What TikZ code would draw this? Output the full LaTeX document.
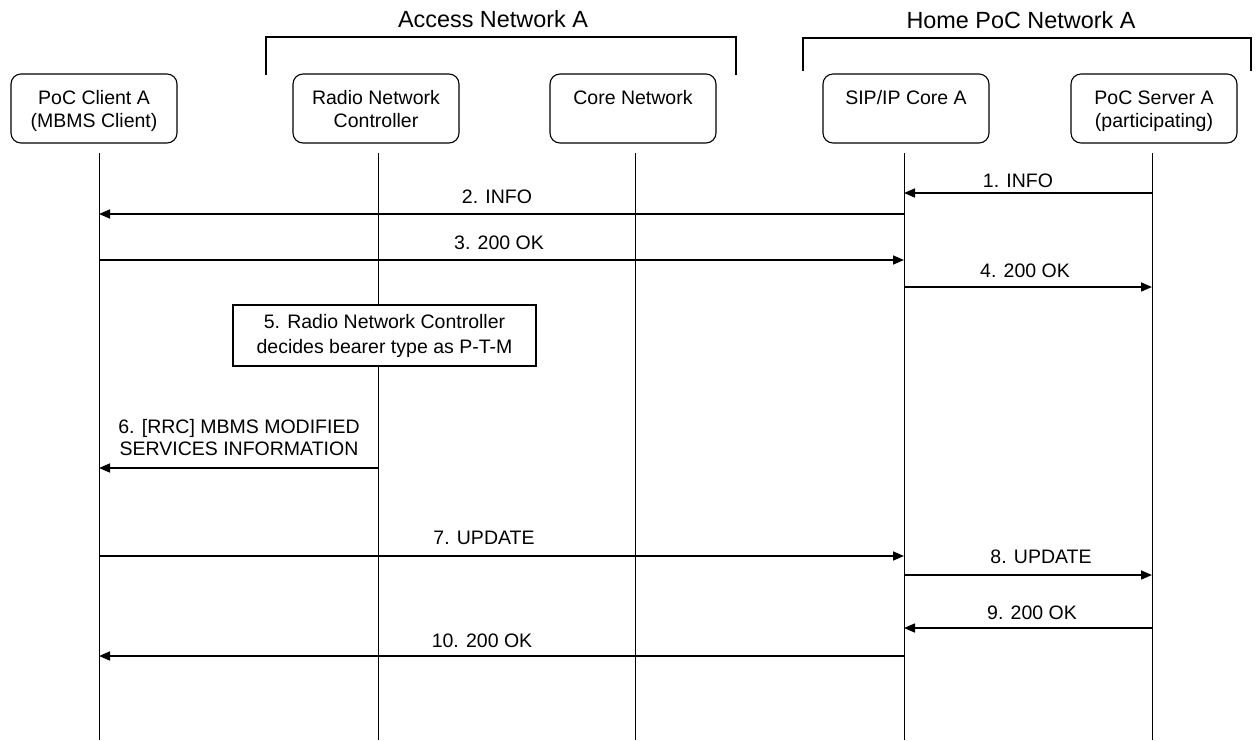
\documentclass[tikz,border=0pt]{standalone}
\usepackage{fontspec}
\setmainfont{Liberation Sans}
\usetikzlibrary{arrows.meta}
\begin{document}
\begin{tikzpicture}[x=1pt,y=-1pt,
  ent/.style={draw, rounded corners=10pt, line width=1.1pt, minimum width=166pt, minimum height=69pt, inner sep=0pt},
  enttext/.style={anchor=north, align=center, inner sep=0pt, font=\fontsize{19.5}{23}\selectfont},
  hdr/.style={inner sep=0pt, font=\fontsize{23.4}{27}\selectfont},
  life/.style={line width=1pt},
  brk/.style={line width=1.1pt},
  msg/.style={line width=1.6pt, -{Triangle[length=11pt,width=9pt]}},
  lbl/.style={inner sep=0pt, align=center, font=\fontsize{19.5}{22}\selectfont},
  actbox/.style={draw, fill=white, line width=1.1pt, minimum width=303pt, minimum height=61pt, inner sep=0pt, align=center, font=\fontsize{19.5}{25}\selectfont}
]
\useasboundingbox (0,0) rectangle (1256,740);

% headers and brackets
\node[hdr] (hAcc) at (493,19) {Access Network A};
\node[hdr] (hHome) at (1021,20) {Home PoC Network A};
\draw[brk] (266,75) -- (266,37) -- (736,37) -- (736,75);
\draw[brk] (803,71) -- (803,38) -- (1251,38) -- (1251,71);

% entities
\node[ent] (A) at (94,108.5) {};
\node[ent] (R) at (376,108.5) {};
\node[ent] (C) at (633,108.5) {};
\node[ent] (S) at (906,108.5) {};
\node[ent] (P) at (1154,108.5) {};
\node[enttext] (At) at ([yshift=-17pt]A.north) {PoC Client A\\(MBMS Client)};
\node[enttext] (Rt) at ([yshift=-17pt]R.north) {Radio Network\\Controller};
\node[enttext] (Ct) at ([yshift=-17pt]C.north) {Core Network};
\node[enttext] (St) at ([yshift=-17pt]S.north) {SIP/IP Core A};
\node[enttext] (Pt) at ([yshift=-17pt]P.north) {PoC Server A\\(participating)};

% lifelines
\coordinate (lA) at (99,153);   \coordinate (eA) at (99,740);
\coordinate (lR) at (378,153);  \coordinate (eR) at (378,740);
\coordinate (lC) at (635,153);  \coordinate (eC) at (635,740);
\coordinate (lS) at (904,153);  \coordinate (eS) at (904,740);
\coordinate (lP) at (1152,153); \coordinate (eP) at (1152,740);
\draw[life] (lA) -- (eA);
\draw[life] (lR) -- (eR);
\draw[life] (lC) -- (eC);
\draw[life] (lS) -- (eS);
\draw[life] (lP) -- (eP);

% message rows
\coordinate (m1) at (0,193);
\coordinate (m2) at (0,214);
\coordinate (m3) at (0,260);
\coordinate (m4) at (0,287);
\coordinate (m6) at (0,468);
\coordinate (m7) at (0,556);
\coordinate (m8) at (0,575);
\coordinate (m9) at (0,628);
\coordinate (m10) at (0,656);

\draw[msg] (lP |- m1) -- (lS |- m1);
\node[lbl] (t1) at (1018,181) {1. INFO};
\draw[msg] (lS |- m2) -- (lA |- m2);
\node[lbl] (t2) at (497,197) {2. INFO};
\draw[msg] (lA |- m3) -- (lS |- m3);
\node[lbl] (t3) at (499,243) {3. 200 OK};
\draw[msg] (lS |- m4) -- (lP |- m4);
\node[lbl] (t4) at (1025,271) {4. 200 OK};

\node[actbox] (b5) at (384.5,335.5) {5. Radio Network Controller\\decides bearer type as P-T-M};

\draw[msg] (lR |- m6) -- (lA |- m6);
\node[lbl] (t6) at (239,438) {6. [RRC] MBMS MODIFIED\\SERVICES INFORMATION};

\draw[msg] (lA |- m7) -- (lS |- m7);
\node[lbl] (t7) at (484,538) {7. UPDATE};
\draw[msg] (lS |- m8) -- (lP |- m8);
\node[lbl] (t8) at (1041,557) {8. UPDATE};
\draw[msg] (lP |- m9) -- (lS |- m9);
\node[lbl] (t9) at (1032,613) {9. 200 OK};
\draw[msg] (lS |- m10) -- (lA |- m10);
\node[lbl] (t10) at (482,641) {10. 200 OK};
\end{tikzpicture}
\end{document}
